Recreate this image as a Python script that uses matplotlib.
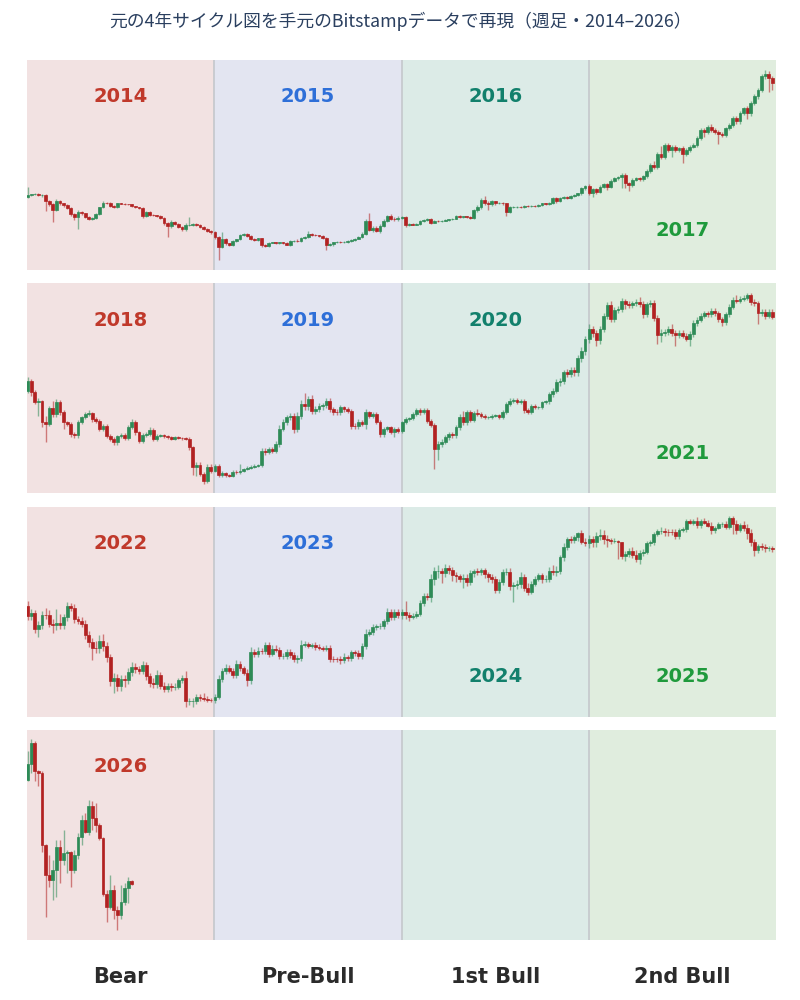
import numpy as np
import matplotlib.pyplot as plt

plt.rcParams['font.family'] = ['Noto Sans CJK JP', 'DejaVu Sans']

TITLE = '元の4年サイクル図を手元のBitstampデータで再現（週足・2014–2026）'
PHASES = ['Bear', 'Pre-Bull', '1st Bull', '2nd Bull']
CYCLE_STARTS = [2014, 2018, 2022, 2026]
LOW_LABEL_YEARS = [2017, 2021, 2024, 2025]

# weekly closes (USD); open = previous close
open_2014 = 760
close_2014 = [803, 818, 830, 797, 810, 695, 633, 556, 695, 649, 617, 581, 494, 462, 520, 503, 462, 440, 448, 494,
              586, 665, 655, 605, 591, 649, 643, 638, 633, 601, 586, 576, 470, 520, 486, 478, 474, 448, 396, 363,
              402, 386, 360, 335, 376, 379, 386, 376, 360, 339, 320, 310]
close_2015 = [276, 214, 260, 235, 227, 250, 260, 292, 299, 283, 262, 256, 267, 224, 220, 239, 241, 237, 241, 235,
              227, 248, 252, 250, 269, 276, 297, 292, 287, 283, 271, 227, 229, 241, 246, 241, 243, 248, 256, 265,
              278, 299, 417, 334, 348, 322, 370, 420, 466, 442, 432, 453]
close_2016 = [460, 379, 389, 379, 386, 413, 428, 440, 399, 420, 417, 420, 424, 432, 442, 470, 457, 466, 457, 449,
              543, 591, 701, 660, 633, 683, 649, 660, 649, 529, 591, 596, 596, 591, 611, 605, 611, 605, 622, 649,
              638, 660, 737, 683, 749, 770, 743, 783, 803, 838, 953, 1012]
close_2017 = [838, 928, 875, 994, 1064, 994, 1159, 1231, 1284, 1340, 1082, 1038, 1180, 1231, 1200, 1306, 1484,
              1731, 1658, 2273, 2142, 2887, 2540, 2765, 2540, 2650, 2273, 2540, 2765, 2887, 3424, 4236, 4060, 4615,
              4236, 4060, 3825, 3730, 4420, 4815, 5710, 5245, 6490, 7380, 6490, 8380, 9940, 11790, 16580, 17750,
              15890, 13990]
close_2018 = [16430, 13590, 11690, 11750, 8350, 8130, 10480, 9560, 11560, 9825, 8350, 8130, 6900, 6790, 8350, 9060,
              9560, 9660, 8815, 8580, 7494, 7830, 6721, 6368, 6033, 6650, 6790, 6440, 7700, 8440, 7095, 6200, 6790,
              6900, 7420, 6368, 6721, 6790, 6650, 6545, 6368, 6545, 6475, 6440, 6368, 5560, 4020, 4180, 3605, 3235,
              4020, 3810]
close_2019 = [4129, 3548, 3665, 3548, 3510, 3745, 3705, 3810, 3911, 3993, 4060, 4129, 4170, 5270, 5127, 5414, 5270,
              5870, 7494, 8350, 9060, 9210, 7494, 9308, 11250, 10830, 12200, 10100, 10370, 10830, 11070, 11880,
              10370, 9930, 9825, 10660, 10370, 10100, 7910, 7830, 8440, 8130, 9825, 9308, 9560, 8440, 6900, 7494,
              7700, 7175, 7494, 7290]
close_2020 = [8350, 8815, 8910, 9560, 10200, 9825, 10200, 8580, 8000, 5414, 5870, 6100, 6545, 6900, 6790, 7700,
              9060, 8350, 9825, 8720, 9720, 9560, 9308, 9060, 9060, 9308, 9410, 9060, 9930, 11250, 11880, 12060,
              11690, 11880, 10200, 9930, 10950, 10660, 10660, 11560, 11750, 13230, 13960, 15990, 16430, 18810,
              18310, 19640, 18810, 23620, 26770, 32330]
close_2021 = [38030, 35640, 31990, 38030, 47230, 56170, 45240, 52070, 52630, 60260, 57080, 56170, 58030, 59600,
              57080, 48540, 57080, 58650, 45970, 34500, 36030, 36420, 38030, 36030, 34500, 36030, 34130, 32330,
              35070, 41930, 44270, 47230, 49330, 48540, 51230, 49330, 44740, 42840, 48540, 54970, 61260, 60500,
              62600, 63620, 66070, 59290, 58030, 49330, 50400, 47230, 50400, 46730]
close_2022 = [41800, 43100, 36300, 37900, 42400, 42200, 38400, 37700, 38800, 37800, 41300, 46800, 45800, 40500,
              39700, 38400, 34000, 31300, 29500, 29400, 31700, 29900, 26600, 20500, 21100, 19300, 20800, 20600,
              22500, 23800, 23300, 22900, 24300, 21500, 20000, 19800, 21800, 19400, 18800, 19300, 19100, 19200,
              20600, 21100, 16300, 16300, 16400, 17100, 16900, 16800, 16600, 16500]
close_2023 = [17100, 20900, 22700, 23700, 22900, 21800, 24600, 23500, 22400, 20600, 28000, 27500, 28500, 28300,
              30300, 27600, 29200, 28900, 26900, 26900, 28100, 27200, 25900, 26300, 30500, 30600, 30200, 30300,
              29800, 29300, 29000, 29400, 26100, 26000, 25900, 25800, 26500, 26300, 28000, 27900, 26900, 30000,
              34500, 35000, 37100, 37400, 37500, 39500, 43700, 41400, 43700, 42300]
close_2024 = [43900, 42500, 41600, 42000, 43000, 48300, 52100, 51700, 63100, 68400, 68400, 67200, 71300, 69400,
              65700, 64900, 63100, 63900, 60800, 66900, 68500, 67700, 69300, 66200, 64300, 62700, 55900, 60800,
              68200, 68300, 58100, 58700, 59500, 64200, 57300, 54800, 59900, 63300, 65600, 62800, 63000, 69000,
              68000, 68800, 80000, 89900, 98000, 97200, 99800, 104400, 95100, 93700]
close_2025 = [98300, 94500, 101300, 102600, 97700, 96500, 96100, 96200, 94200, 80700, 82600, 86100, 82400, 78400,
              83800, 85100, 93700, 94300, 104000, 106500, 107300, 105700, 105600, 105500, 101000, 108400, 109200,
              119100, 117300, 119400, 114200, 119300, 117400, 113500, 108300, 111100, 115300, 115300, 112200,
              123500, 115100, 108600, 114500, 110500, 104700, 94200, 86800, 90400, 89400, 88200, 88500, 87600]
close_2026 = [91050, 96190, 89540, 89160, 74400, 68950, 68080, 69830, 74080, 71620, 72850, 73000, 69830, 72540,
              75970, 79230, 76920, 81960, 79570, 78250, 75640, 65810, 63640, 66380, 63110, 62320, 64460, 66670,
              67960, 67390]

# wick lengths beyond the body, in percent (upper / lower)
up_2014 = [23, 2, 2, 2, 2, 2, 3, 3, 5, 2, 2, 3, 2, 3, 6, 3, 2, 2, 2, 3, 2, 3, 2, 2, 2, 2, 1, 1, 1, 2, 1, 2, 2, 3,
           2, 1, 2, 2, 3, 3, 5, 3, 2, 2, 4, 22, 3, 2, 2, 2, 2, 2]
dn_2014 = [3, 2, 2, 2, 3, 23, 5, 27, 4, 3, 3, 3, 5, 8, 26, 4, 3, 3, 2, 3, 3, 2, 3, 2, 2, 3, 1, 1, 2, 2, 2, 2, 5, 3,
           3, 2, 2, 3, 5, 24, 4, 3, 3, 3, 3, 3, 3, 2, 3, 3, 3, 3]
up_2015 = [4, 3, 21, 3, 2, 3, 2, 3, 2, 2, 3, 2, 2, 2, 3, 2, 2, 2, 2, 2, 3, 2, 2, 3, 2, 3, 8, 3, 2, 2, 3, 2, 3, 2,
           2, 2, 2, 2, 2, 2, 3, 4, 5, 21, 6, 4, 3, 4, 5, 6, 4, 3]
dn_2015 = [4, 29, 3, 4, 3, 3, 3, 2, 2, 3, 2, 3, 3, 5, 3, 2, 2, 2, 2, 2, 2, 3, 2, 2, 2, 2, 2, 2, 2, 2, 3, 12, 4, 3,
           2, 2, 2, 2, 2, 2, 2, 2, 3, 4, 5, 3, 4, 3, 3, 4, 4, 3]
up_2016 = [3, 2, 2, 2, 2, 3, 2, 2, 3, 2, 2, 2, 2, 2, 2, 3, 2, 2, 2, 2, 4, 5, 6, 12, 4, 3, 2, 2, 2, 2, 3, 2, 2, 2,
           2, 2, 2, 2, 2, 2, 2, 2, 3, 3, 2, 2, 3, 2, 2, 2, 3, 4]
dn_2016 = [3, 6, 3, 2, 2, 3, 2, 2, 3, 2, 2, 2, 2, 2, 2, 2, 2, 2, 2, 2, 3, 3, 4, 5, 14, 4, 3, 2, 3, 11, 3, 2, 2, 2,
           2, 2, 2, 2, 2, 2, 2, 2, 3, 4, 2, 2, 3, 2, 2, 2, 3, 4]
up_2017 = [5, 4, 4, 4, 3, 4, 4, 3, 3, 4, 5, 5, 4, 3, 4, 3, 5, 6, 10, 5, 22, 5, 6, 4, 5, 4, 6, 5, 4, 4, 5, 5, 4, 4,
           6, 4, 4, 5, 4, 4, 5, 6, 5, 4, 6, 5, 5, 5, 6, 11, 7, 6]
dn_2017 = [4, 9, 5, 4, 3, 8, 3, 3, 3, 25, 12, 14, 4, 3, 4, 3, 4, 4, 5, 6, 6, 5, 6, 16, 5, 5, 19, 5, 4, 4, 5, 5, 13,
           5, 5, 6, 23, 5, 5, 5, 6, 7, 6, 5, 14, 6, 5, 6, 6, 7, 30, 16]
up_2018 = [6, 3, 4, 5, 3, 11, 4, 13, 5, 4, 4, 3, 3, 3, 4, 3, 3, 5, 3, 3, 3, 4, 3, 3, 3, 3, 3, 3, 4, 4, 3, 3, 3, 3,
           4, 3, 3, 2, 2, 2, 2, 2, 2, 2, 2, 3, 3, 4, 4, 3, 5, 5]
dn_2018 = [4, 5, 4, 21, 8, 26, 4, 4, 5, 4, 10, 4, 5, 4, 4, 3, 3, 3, 4, 3, 4, 3, 4, 4, 4, 4, 3, 3, 3, 3, 4, 3, 3, 3,
           3, 3, 3, 2, 2, 2, 2, 2, 2, 2, 2, 4, 12, 13, 4, 5, 4, 4]
up_2019 = [3, 3, 3, 2, 2, 3, 2, 11, 2, 2, 2, 2, 2, 5, 4, 4, 4, 5, 6, 5, 4, 5, 5, 6, 6, 20, 5, 6, 5, 5, 4, 5, 4, 4,
           4, 4, 3, 4, 3, 4, 4, 3, 6, 3, 4, 3, 3, 3, 3, 3, 3, 3]
dn_2019 = [3, 4, 3, 3, 3, 3, 2, 2, 2, 2, 2, 2, 2, 3, 4, 3, 4, 4, 5, 4, 4, 4, 7, 5, 5, 6, 5, 5, 5, 5, 5, 5, 5, 5, 5,
           4, 4, 4, 6, 4, 4, 3, 8, 3, 4, 3, 5, 5, 3, 4, 9, 3]
up_2020 = [3, 4, 3, 4, 4, 3, 4, 3, 3, 3, 5, 4, 4, 4, 3, 4, 5, 11, 4, 4, 4, 7, 3, 3, 3, 2, 2, 2, 3, 4, 4, 3, 3, 3,
           3, 3, 3, 2, 2, 3, 3, 4, 4, 5, 4, 4, 5, 4, 4, 5, 6, 6]
dn_2020 = [3, 3, 3, 3, 3, 4, 3, 4, 4, 28, 17, 5, 4, 4, 4, 4, 4, 4, 5, 4, 4, 3, 3, 3, 3, 2, 2, 2, 3, 3, 3, 3, 3, 3,
           4, 4, 3, 3, 3, 3, 3, 4, 4, 4, 5, 5, 5, 5, 5, 5, 6, 6]
up_2021 = [8, 5, 5, 5, 5, 6, 7, 5, 6, 5, 4, 5, 4, 4, 7, 5, 4, 4, 5, 5, 6, 5, 5, 8, 5, 5, 4, 5, 5, 5, 4, 4, 4, 4, 4,
           5, 4, 4, 4, 5, 4, 8, 4, 4, 4, 4, 4, 4, 4, 4, 4, 4]
dn_2021 = [6, 6, 9, 6, 5, 5, 6, 5, 5, 4, 7, 4, 4, 4, 5, 6, 5, 4, 6, 13, 11, 5, 5, 5, 16, 5, 4, 3, 10, 5, 4, 4, 4, 4,
           4, 5, 5, 6, 5, 4, 4, 4, 4, 4, 4, 5, 5, 16, 5, 5, 4, 4]
up_2022 = [6, 5, 4, 5, 4, 8, 6, 5, 17, 10, 4, 4, 3, 4, 3, 4, 4, 4, 5, 8, 7, 8, 5, 4, 6, 5, 5, 5, 5, 6, 5, 4, 5, 4,
           4, 5, 6, 4, 4, 4, 3, 4, 3, 4, 8, 4, 3, 4, 4, 6, 3, 2]
dn_2022 = [4, 4, 4, 9, 4, 4, 4, 8, 5, 4, 4, 4, 3, 4, 4, 4, 5, 5, 13, 5, 5, 5, 5, 6, 13, 5, 5, 7, 4, 4, 4, 4, 4, 4,
           4, 5, 4, 4, 4, 4, 4, 3, 3, 3, 6, 4, 6, 3, 3, 3, 2, 2]
up_2023 = [3, 4, 4, 4, 3, 3, 5, 4, 3, 4, 6, 4, 4, 3, 4, 4, 4, 4, 3, 3, 3, 3, 3, 4, 5, 4, 3, 3, 4, 3, 3, 3, 3, 3, 2,
           4, 5, 3, 3, 3, 3, 4, 5, 4, 3, 3, 3, 3, 5, 3, 4, 3]
dn_2023 = [3, 2, 3, 3, 3, 3, 3, 3, 3, 6, 4, 3, 3, 3, 3, 4, 3, 3, 3, 3, 3, 3, 3, 4, 3, 3, 3, 3, 3, 2, 2, 2, 4, 3, 3,
           4, 3, 3, 3, 3, 3, 3, 3, 3, 3, 3, 3, 3, 3, 3, 3, 3]
up_2024 = [3, 12, 3, 3, 3, 3, 4, 4, 6, 5, 8, 4, 4, 3, 4, 4, 3, 4, 4, 4, 3, 4, 3, 3, 3, 3, 4, 4, 3, 4, 4, 4, 5, 6,
           4, 5, 3, 3, 3, 3, 5, 4, 6, 6, 3, 4, 2, 3, 3, 1, 4, 4]
dn_2024 = [4, 5, 5, 3, 3, 3, 3, 3, 6, 7, 7, 10, 4, 4, 6, 6, 4, 10, 4, 3, 4, 3, 3, 4, 5, 4, 4, 3, 3, 3, 4, 16, 4, 4,
           4, 4, 3, 3, 3, 4, 3, 3, 3, 4, 3, 4, 4, 4, 4, 4, 3, 3]
up_2025 = [4, 3, 4, 7, 5, 5, 3, 3, 1, 1, 4, 3, 4, 5, 4, 3, 2, 3, 2, 3, 4, 3, 3, 4, 4, 2, 2, 2, 3, 2, 5, 2, 4, 3, 4,
           2, 2, 2, 3, 2, 2, 5, 2, 4, 5, 4, 4, 3, 4, 4, 2, 2]
dn_2025 = [5, 5, 5, 4, 5, 7, 4, 3, 17, 3, 5, 3, 4, 3, 5, 3, 3, 3, 3, 3, 3, 4, 4, 3, 3, 3, 2, 3, 2, 3, 3, 3, 2, 2, 4,
           3, 2, 3, 3, 3, 10, 5, 3, 3, 6, 4, 7, 3, 3, 4, 3, 3]
up_2026 = [3.4, 0.8, 0.5, 0.3, 0.5, 0.3, 5.2, 2.6, 1.7, 1.7, 6.1, 0.7, 0.3, 1.3, 0.8, 1.3, 1.7, 1.7, 1.3, 3.8, 0.4,
           0.3, 0.9, 3.9, 1.3, 1.1, 4.3, 1.3, 1.0, 0.2]
dn_2026 = [0.3, 2.1, 2.5, 3.3, 1.7, 10, 1.7, 4.9, 6.5, 5.7, 1.2, 4.9, 4.1, 0.8, 0.9, 2.1, 0.4, 0.8, 2.9, 1.7, 0.4,
           0.5, 3.7, 0.4, 2.1, 3.7, 0.8, 0.7, 3.6, 0.3]

YEARS = {
    2014: (close_2014, up_2014, dn_2014), 2015: (close_2015, up_2015, dn_2015),
    2016: (close_2016, up_2016, dn_2016), 2017: (close_2017, up_2017, dn_2017),
    2018: (close_2018, up_2018, dn_2018), 2019: (close_2019, up_2019, dn_2019),
    2020: (close_2020, up_2020, dn_2020), 2021: (close_2021, up_2021, dn_2021),
    2022: (close_2022, up_2022, dn_2022), 2023: (close_2023, up_2023, dn_2023),
    2024: (close_2024, up_2024, dn_2024), 2025: (close_2025, up_2025, dn_2025),
    2026: (close_2026, up_2026, dn_2026),
}

BG = ['#F2E2E2', '#E3E5F1', '#DCEBE7', '#E0EDDE']
LABEL_COLORS = ['#C0392B', '#2E6FD8', '#12806C', '#1F9A3C']
UP_COLOR = '#2E8B57'
DOWN_COLOR = '#B22222'
YEAR_LEN = 365.25

# build OHLC per year, chaining opens from the previous close
candles = {}
prev = open_2014
for year in sorted(YEARS):
    c, up, dn = (np.array(v, dtype=float) for v in YEARS[year])
    o = np.concatenate([[prev], c[:-1]])
    hi = np.maximum(o, c) * (1 + up / 100)
    lo = np.minimum(o, c) * (1 - dn / 100)
    candles[year] = (o, c, hi, lo)
    prev = c[-1]

fig = plt.figure(figsize=(8, 10), dpi=100)

for row, start in enumerate(CYCLE_STARTS):
    ax = fig.add_axes([0.034, 0.73 - row * 0.2233, 0.936, 0.21])
    ax.set_yscale('log')
    ax.set_xlim(0, 4 * YEAR_LEN)

    for q in range(4):
        ax.axvspan(q * YEAR_LEN, (q + 1) * YEAR_LEN, color=BG[q], lw=0, zorder=0)
        if q > 0:
            ax.axvline(q * YEAR_LEN, color='#C4C7CC', lw=1.2, zorder=1)

    lows, highs = [], []
    for q in range(4):
        year = start + q
        if year not in candles:
            continue
        o, c, hi, lo = candles[year]
        x = q * YEAR_LEN + 7 * np.arange(len(c)) + 1
        cols = np.where(c >= o, UP_COLOR, DOWN_COLOR)
        ax.vlines(x, lo, hi, colors=cols, lw=1.0, alpha=0.55, zorder=2)
        ax.bar(x, np.abs(c - o), bottom=np.minimum(o, c), width=5.5, color=cols,
               edgecolor=cols, lw=0.5, zorder=3)
        lows.append(lo.min())
        highs.append(hi.max())

        ylab = 0.19 if year in LOW_LABEL_YEARS else 0.824
        ax.text((q + 0.5) * YEAR_LEN, ylab, str(year), transform=ax.get_xaxis_transform(),
                ha='center', va='center', fontsize=14, fontweight='bold',
                color=LABEL_COLORS[q], family='DejaVu Sans', zorder=4)

    lmin, lmax = np.log10(min(lows)), np.log10(max(highs))
    pad = 0.05 * (lmax - lmin)
    ax.set_ylim(10 ** (lmin - pad), 10 ** (lmax + pad))
    ax.set_axis_off()

fig.text(0.5, 0.979, TITLE, ha='center', va='center', fontsize=12.8, color='#2A3F5F')

for q, name in enumerate(PHASES):
    fig.text(0.034 + 0.936 * (q + 0.5) / 4, 0.023, name, ha='center', va='center',
             fontsize=15, fontweight='bold', color='#2B2B2B', family='DejaVu Sans')

fig.savefig('out.png', dpi=100)
